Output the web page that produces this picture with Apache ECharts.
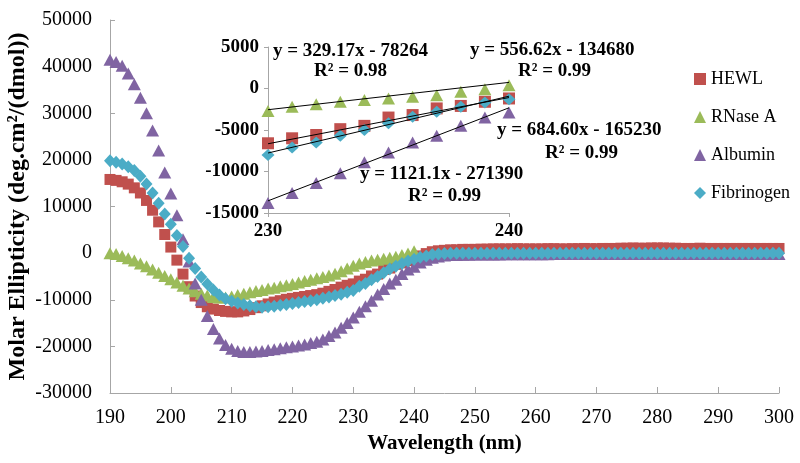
<!DOCTYPE html>
<html><head><meta charset="utf-8">
<script src="https://cdn.jsdelivr.net/npm/echarts@6/dist/echarts.min.js"></script>
<style>html,body{margin:0;padding:0;background:#fff}#c{width:800px;height:463px}</style>
</head><body><div id="c"></div>
<script>
// ---- Data ----
const seriesNames = ['HEWL', 'RNase A', 'Albumin', 'Fibrinogen'];
const wlStart = 190;
const hewl = [15800,15600,15300,14800,14000,12900,11300,9200,6700,4000,
  1300,-1500,-4500,-7200,-9200,-10600,-11500,-12000,-12300,-12500,
  -12600,-12600,-12400,-12100,-11700,-11300,-10900,-10500,-10200,-9900,
  -9700,-9500,-9300,-9100,-8900,-8600,-8200,-7800,-7300,-6900,
  -6600,-6000,-5600,-4900,-4500,-3500,-3200,-2400,-2100,-1600,
  -1200,-600,-100,300,500,600,700,700,800,800,
  800,850,850,900,900,900,900,950,900,900,
  900,900,950,950,900,900,950,950,1000,950,
  950,1000,1000,1000,1050,1050,1100,1050,1050,1100,
  1100,1100,1050,1050,1000,1000,1000,1050,1000,1000,
  1000,1000,1000,1000,1000,1000,1000,1000,1000,1000,1000];
const rnase = [0,-200,-600,-1100,-1600,-2200,-2800,-3500,-4200,-4900,
  -5600,-6300,-7000,-7600,-8200,-8700,-9100,-9400,-9500,-9500,
  -9300,-9000,-8700,-8400,-8100,-7900,-7600,-7400,-7100,-6900,
  -6600,-6300,-6000,-5700,-5400,-5100,-4800,-4400,-3900,-3300,
  -2700,-2200,-1900,-1600,-1400,-1200,-1000,-800,-400,-100,400];
const albumin = [41500,41000,40200,38500,36200,33300,30000,26300,22000,17300,
  12800,8100,3000,-1800,-6500,-10000,-13500,-16300,-18300,-19700,
  -20500,-21000,-21200,-21200,-21100,-21000,-20800,-20600,-20400,-20200,
  -20000,-19800,-19600,-19300,-19000,-18500,-17800,-17000,-16000,-15000,
  -13800,-12600,-11400,-10200,-8900,-7700,-6500,-5700,-4500,-3500,
  -2900,-2000,-1400,-1000,-700,-500,-400,-400,-350,-350,
  -300,-300,-300,-300,-300,-250,-250,-250,-250,-250,
  -250,-250,-250,-200,-200,-200,-200,-200,-200,-200,
  -200,-200,-200,-200,-200,-200,-200,-200,-200,-200,
  -200,-200,-200,-200,-200,-200,-200,-200,-200,-200,
  -200,-200,-200,-200,-200,-200,-200,-200,-200,-200,-200];
const fibrinogen = [19800,19500,19100,18500,17700,16500,14800,12900,10700,8400,
  6200,3800,1400,-1100,-3300,-5100,-6600,-7900,-9000,-9800,
  -10300,-10700,-11000,-11300,-11500,-11600,-11500,-11400,-11200,-11000,
  -10800,-10600,-10400,-10200,-10000,-9700,-9400,-9100,-8800,-8400,
  -8000,-7100,-6500,-5700,-5000,-4200,-3400,-2800,-2200,-1700,
  -1300,-900,-600,-300,-200,-100,0,0,0,0,
  0,0,0,0,0,0,0,0,0,0,
  0,0,0,0,0,0,0,0,0,0,
  0,0,0,0,0,0,0,0,0,0,
  0,0,0,0,0,0,0,0,0,0,
  0,0,0,0,0,0,0,0,0,0,0];
// inset (230-240 nm)
const insetStart = 230;
const insetHewl = [-6600,-6000,-5600,-4900,-4500,-3500,-3200,-2400,-2100,-1600,-1200];
const insetRnase = [-2700,-2200,-1900,-1600,-1400,-1200,-1000,-800,-400,-100,400];
const insetAlbumin = [-13800,-12600,-11400,-10200,-8900,-7700,-6500,-5700,-4500,-3500,-2900];
const insetFibrinogen = [-8000,-7100,-6500,-5700,-5000,-4200,-3400,-2800,-2200,-1700,-1300];
// trend line coefficients [slope, intercept]
const fitHewl = [556.62, -134680];
const fitRnase = [329.17, -78264];
const fitAlbumin = [1121.1, -271390];
const fitFibrinogen = [684.60, -165230];
const fitText = {
  rnase: ['y = 329.17x - 78264', 'R² = 0.98'],
  hewl: ['y = 556.62x - 134680', 'R² = 0.99'],
  fibrinogen: ['y = 684.60x - 165230', 'R² = 0.99'],
  albumin: ['y = 1121.1x - 271390', 'R² = 0.99']
};

const colors = {HEWL:'#C0504D','RNase A':'#9BBB59',Albumin:'#8064A2',Fibrinogen:'#4BACC6'};
const symbols = {HEWL:'rect','RNase A':'triangle',Albumin:'triangle',Fibrinogen:'diamond'};
const sizes = {HEWL:[11,11],'RNase A':[13,12],Albumin:[13,12],Fibrinogen:[12,13]};

function pairs(start, arr){ return arr.map((v,i)=>[start+i, v]); }
function fitLine(c){ return [[230, c[0]*230+c[1]], [240, c[0]*240+c[1]]]; }

const serif = '"Liberation Serif","Times New Roman",serif';
const axisGray = '#A6A6A6';
const plain = v => String(v);

const chart = echarts.init(document.getElementById('c'));

const mainData = {HEWL:hewl,'RNase A':rnase,Albumin:albumin,Fibrinogen:fibrinogen};
const insetData = {HEWL:insetHewl,'RNase A':insetRnase,Albumin:insetAlbumin,Fibrinogen:insetFibrinogen};
const series = [];
seriesNames.forEach(n=>{
  series.push({name:n,type:'scatter',xAxisIndex:0,yAxisIndex:0,data:pairs(wlStart,mainData[n]),
    symbol:symbols[n],symbolSize:sizes[n],itemStyle:{color:colors[n],opacity:1}});
});
seriesNames.forEach(n=>{
  series.push({name:n,type:'scatter',xAxisIndex:1,yAxisIndex:1,data:pairs(insetStart,insetData[n]),
    symbol:symbols[n],symbolSize:n==='HEWL'?[12,12]:[13,12],itemStyle:{color:colors[n],opacity:1},z:3});
});
[fitRnase,fitHewl,fitFibrinogen,fitAlbumin].forEach(c=>{
  series.push({type:'line',xAxisIndex:1,yAxisIndex:1,data:fitLine(c),symbol:'none',
    lineStyle:{color:'#000',width:1},silent:true,z:4});
});

function txt(x,y,s){
  return {type:'text',left:x,top:y,z:10,style:{text:s,font:'bold 19px '+serif,fill:'#000'}};
}

chart.setOption({
  animation:false,
  backgroundColor:'#fff',
  legend:{data:seriesNames,orient:'vertical',left:689,top:65,itemGap:20,itemWidth:12,itemHeight:12,
    textStyle:{fontFamily:serif,fontSize:18,color:'#000'}},
  grid:[{left:110,right:21,top:20,bottom:70,containLabel:false,outerBoundsMode:'none'},
        {left:268,width:241,top:47,height:166,containLabel:false,outerBoundsMode:'none'}],
  xAxis:[{type:'value',gridIndex:0,min:190,max:300,interval:10,
      name:'Wavelength (nm)',nameLocation:'middle',nameGap:40,nameMoveOverlap:false,
      nameTextStyle:{fontFamily:serif,fontSize:21,fontWeight:'bold',color:'#000'},
      axisLine:{onZero:false,lineStyle:{color:axisGray}},axisTick:{inside:true,length:6,lineStyle:{color:axisGray}},
      splitLine:{show:false},axisLabel:{fontFamily:serif,fontSize:20,color:'#000',margin:15,formatter:plain}},
    {type:'value',gridIndex:1,min:230,max:240,interval:10,
      axisLine:{onZero:false,lineStyle:{color:axisGray}},axisTick:{length:4,lineStyle:{color:axisGray}},
      splitLine:{show:false},axisLabel:{fontFamily:serif,fontSize:19,fontWeight:'bold',color:'#000',margin:9,formatter:plain}}],
  yAxis:[{type:'value',gridIndex:0,min:-30000,max:50000,interval:10000,
      name:'Molar Ellipticity (deg.cm²/(dmol))',nameLocation:'middle',nameGap:80,nameRotate:90,nameMoveOverlap:false,
      nameTextStyle:{fontFamily:serif,fontSize:24,fontWeight:'bold',color:'#000'},
      axisLine:{show:true,lineStyle:{color:axisGray}},axisTick:{show:true,inside:true,length:5,lineStyle:{color:axisGray}},
      splitLine:{show:false},axisLabel:{fontFamily:serif,fontSize:20,color:'#000',margin:18,formatter:plain}},
    {type:'value',gridIndex:1,min:-15000,max:5000,interval:5000,
      axisLine:{show:true,lineStyle:{color:axisGray}},axisTick:{show:true,length:4,lineStyle:{color:axisGray}},
      splitLine:{show:false},axisLabel:{fontFamily:serif,fontSize:19,fontWeight:'bold',color:'#000',margin:9,formatter:plain}}],
  series:series,
  graphic:[
    txt(273,42,fitText.rnase[0]), txt(314,62,fitText.rnase[1]),
    txt(470,41,fitText.hewl[0]), txt(518,62,fitText.hewl[1]),
    txt(497,121,fitText.fibrinogen[0]), txt(545,144,fitText.fibrinogen[1]),
    txt(360,165,fitText.albumin[0]), txt(408,187,fitText.albumin[1])
  ]
});
</script></body></html>
